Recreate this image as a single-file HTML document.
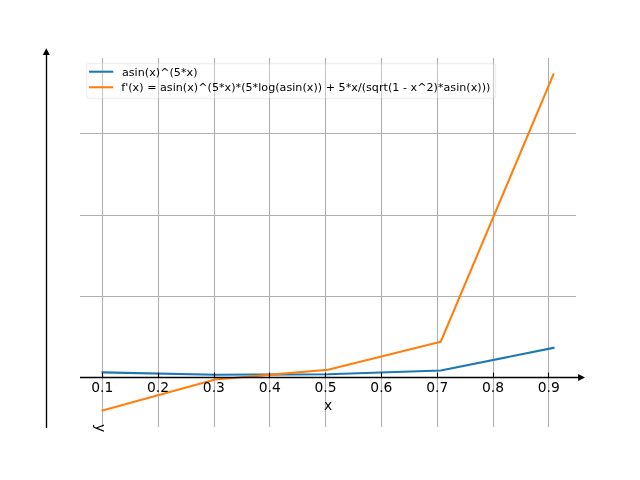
<!DOCTYPE html>
<html lang="en">
<head>
<meta charset="utf-8">
<title>asin(x)^(5*x) plot</title>
<style>
html,body{margin:0;padding:0;background:#fff;}
body{width:640px;height:480px;overflow:hidden;}
svg{display:block;}
text{font-family:"DejaVu Sans","Liberation Sans",sans-serif;fill:#000;}
.tick{font-size:13.889px;text-anchor:middle;}
.leg{font-size:11.111px;}
.grid line{stroke:#b0b0b0;stroke-width:1.111;}
</style>
</head>
<body>
<svg width="640" height="480" viewBox="0 0 640 480">
<rect width="640" height="480" fill="#fff"/>
<!-- grid -->
<g class="grid">
<line x1="102.5" y1="58" x2="102.5" y2="427"/>
<line x1="158.5" y1="58" x2="158.5" y2="427"/>
<line x1="214.5" y1="58" x2="214.5" y2="427"/>
<line x1="269.5" y1="58" x2="269.5" y2="427"/>
<line x1="325.5" y1="58" x2="325.5" y2="427"/>
<line x1="381.5" y1="58" x2="381.5" y2="427"/>
<line x1="437.5" y1="58" x2="437.5" y2="427"/>
<line x1="493.5" y1="58" x2="493.5" y2="427"/>
<line x1="548.5" y1="58" x2="548.5" y2="427"/>
<line x1="80" y1="133.5" x2="576" y2="133.5"/>
<line x1="80" y1="215.5" x2="576" y2="215.5"/>
<line x1="80" y1="296.5" x2="576" y2="296.5"/>
<line x1="80" y1="377.5" x2="576" y2="377.5"/>
</g>
<!-- data lines -->
<g fill="none" stroke-width="2.083" stroke-linejoin="round" stroke-linecap="square">
<polyline stroke="#1f77b4" points="102.55,372.39 215.27,374.77 328,374.23 440.73,370.57 553.46,347.84"/>
<polyline stroke="#ff7f0e" points="102.55,410.4 215.27,379.48 328,369.82 440.73,341.73 553.46,74.4"/>
</g>
<!-- spines -->
<g stroke="#000" stroke-width="1.35">
<line x1="46.5" y1="54" x2="46.5" y2="427.9"/>
<line x1="80" y1="377.5" x2="579" y2="377.5"/>
</g>
<!-- ticks -->
<g stroke="#000" stroke-width="1.111">
<line x1="102.5" y1="377.5" x2="102.5" y2="372.6"/>
<line x1="158.5" y1="377.5" x2="158.5" y2="372.6"/>
<line x1="214.5" y1="377.5" x2="214.5" y2="372.6"/>
<line x1="269.5" y1="377.5" x2="269.5" y2="372.6"/>
<line x1="325.5" y1="377.5" x2="325.5" y2="372.6"/>
<line x1="381.5" y1="377.5" x2="381.5" y2="372.6"/>
<line x1="437.5" y1="377.5" x2="437.5" y2="372.6"/>
<line x1="493.5" y1="377.5" x2="493.5" y2="372.6"/>
<line x1="548.5" y1="377.5" x2="548.5" y2="372.6"/>
</g>
<!-- arrows -->
<polygon points="578.1,374 585,377.45 578.1,380.9" fill="#000"/>
<polygon points="42.8,54.9 46.3,48.3 49.8,54.9" fill="#000"/>
<!-- tick labels -->
<g class="tick">
<text x="102.28" y="391.85">0.1</text>
<text x="158.09" y="391.85">0.2</text>
<text x="213.91" y="391.85">0.3</text>
<text x="269.73" y="391.85">0.4</text>
<text x="325.55" y="391.85">0.5</text>
<text x="381.37" y="391.85">0.6</text>
<text x="437.19" y="391.85">0.7</text>
<text x="493.01" y="391.85">0.8</text>
<text x="548.83" y="391.85">0.9</text>
<text x="328" y="410.41">x</text>
</g>
<text class="tick" transform="translate(95.5,428.2) rotate(90)" x="0" y="0">y</text>
<!-- legend -->
<rect x="86.5" y="63.5" width="409" height="35" rx="2.4" ry="2.4" fill="#fff" fill-opacity="0.3" stroke="#ccc" stroke-opacity="0.3" stroke-width="1.389"/>
<g fill="none" stroke-width="2.083" stroke-linecap="square">
<line x1="90" y1="71.71" x2="112.22" y2="71.71" stroke="#1f77b4"/>
<line x1="90" y1="87.27" x2="112.22" y2="87.27" stroke="#ff7f0e"/>
</g>
<text class="leg" x="121.9" y="75.6" textLength="75.6" lengthAdjust="spacing">asin(x)^(5*x)</text>
<text class="leg" x="121.2" y="91.16" textLength="369.2" lengthAdjust="spacing">f'(x) = asin(x)^(5*x)*(5*log(asin(x)) + 5*x/(sqrt(1 - x^2)*asin(x)))</text>
</svg>
</body>
</html>
